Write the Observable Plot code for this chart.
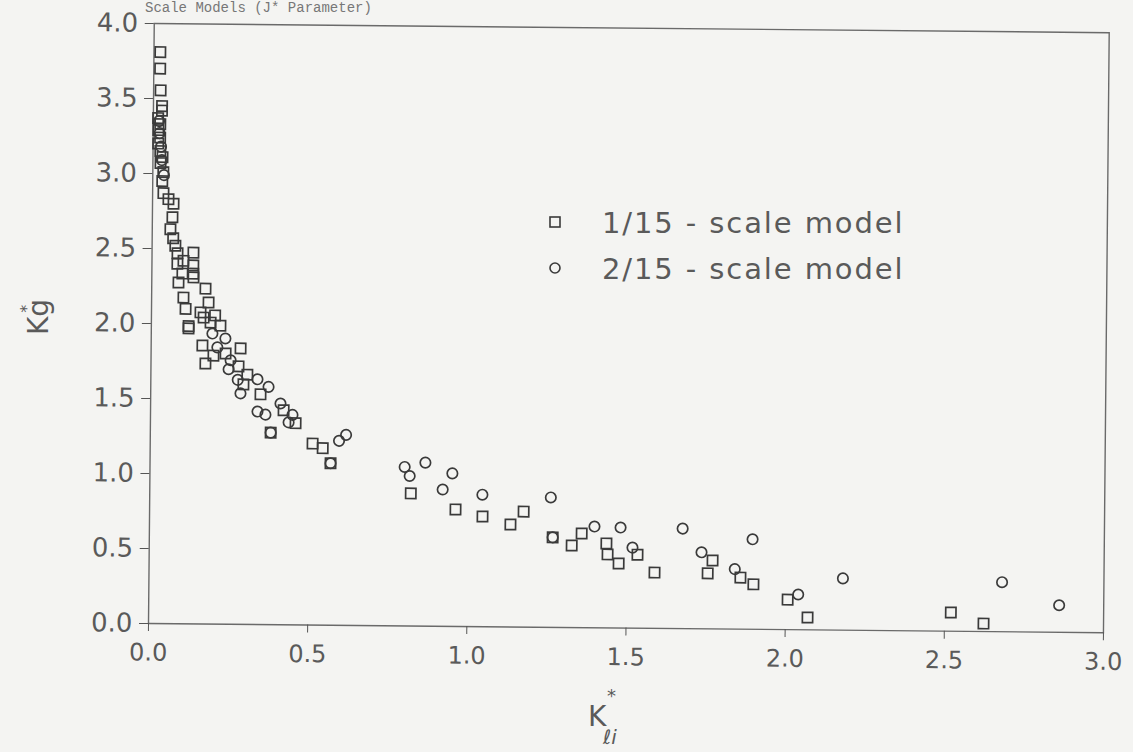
<!DOCTYPE html>
<html>
<head>
<meta charset="utf-8">
<script src="https://cdn.jsdelivr.net/npm/d3@7"></script>
<script src="https://cdn.jsdelivr.net/npm/@observablehq/plot@0.6"></script>
<style>
  html, body { margin: 0; padding: 0; background: #f4f4f2; }
  #wrap { position: relative; width: 1133px; height: 752px; overflow: hidden; }
  #chart svg { position: absolute; left: 0; top: 0; transform: rotate(0.55deg); transform-origin: 148px 623px; }
  #overlay { position: absolute; left: 0; top: 0; pointer-events: none; }
</style>
</head>
<body>
<div id="wrap">
  <div id="chart"></div>
  <svg id="overlay" width="1133" height="752"></svg>
</div>
<script>
// ---- Data (K*_li, K*_g) ----
const xTicks = [0, 0.5, 1.0, 1.5, 2.0, 2.5, 3.0];
const yTicks = [0, 0.5, 1.0, 1.5, 2.0, 2.5, 3.0, 3.5, 4.0];
const seriesNames = ["1/15 - scale model", "2/15 - scale model"];

// 1/15-scale model (squares)
const model15 = [
  [0.020,3.81],[0.020,3.70],[0.022,3.555],[0.027,3.45],[0.027,3.42],[0.015,3.37],[0.022,3.33],
  [0.016,3.29],[0.022,3.24],[0.016,3.20],[0.023,3.15],[0.030,3.11],[0.024,3.07],[0.033,3.01],
  [0.030,2.95],[0.034,2.87],[0.050,2.83],[0.066,2.80],[0.063,2.71],[0.057,2.63],[0.066,2.57],
  [0.073,2.52],[0.080,2.47],[0.130,2.475],[0.099,2.42],[0.080,2.40],[0.130,2.39],[0.096,2.335],
  [0.130,2.335],[0.084,2.275],[0.131,2.31],[0.169,2.236],[0.100,2.175],[0.107,2.10],[0.179,2.144],
  [0.154,2.077],[0.117,1.97],[0.117,1.985],[0.164,2.043],[0.186,2.01],[0.200,2.058],[0.217,1.99],
  [0.161,1.857],[0.196,1.79],[0.171,1.737],[0.234,1.805],[0.281,1.84],[0.275,1.72],[0.303,1.665],
  [0.291,1.60],[0.345,1.535],[0.418,1.43],[0.456,1.345],[0.378,1.28],[0.51,1.21],[0.542,1.18],
  [0.567,1.08],
  [0.82,0.884],[0.961,0.78],[1.046,0.735],[1.134,0.683],[1.175,0.77],[1.267,0.60],[1.327,0.547],
  [1.358,0.628],[1.436,0.563],[1.44,0.49],[1.475,0.43],[1.534,0.49],[1.588,0.372],[1.77,0.456],
  [1.755,0.37],[1.858,0.344],[1.899,0.30],[2.007,0.20],[2.07,0.082],[2.52,0.125],[2.623,0.053]
];

// 2/15-scale model (circles)
const model215 = [
  [0.018,3.35],[0.020,3.27],[0.025,3.18],[0.028,3.09],[0.035,2.99],
  [0.192,1.937],[0.233,1.905],[0.208,1.845],[0.25,1.76],[0.244,1.70],[0.273,1.63],[0.282,1.54],
  [0.335,1.635],[0.37,1.585],[0.336,1.42],[0.361,1.40],[0.408,1.475],[0.446,1.40],[0.434,1.35],
  [0.378,1.28],[0.593,1.23],[0.615,1.27],[0.567,1.08],
  [0.80,1.06],[0.816,1.0],[0.865,1.09],[0.92,0.912],[0.95,1.02],[1.045,0.88],[1.26,0.866],
  [1.267,0.60],[1.398,0.675],[1.48,0.67],[1.518,0.537],[1.675,0.667],[1.735,0.51],[1.84,0.40],
  [1.895,0.60],[2.04,0.235],[2.18,0.345],[2.68,0.33],[2.86,0.18]
];

const ink = "#3a3a3a";
const txt = "#5a5a5a";
const chart = Plot.plot({
  width: 1133,
  height: 752,
  marginLeft: 148,
  marginRight: 30,
  marginTop: 23,
  marginBottom: 129,
  style: { background: "transparent", color: txt, fontFamily: "'DejaVu Sans', sans-serif" },
  x: { domain: [0, 3], axis: null },
  y: { domain: [0, 4], axis: null },
  marks: [
    Plot.frame({ stroke: "#6a6a6a", strokeWidth: 1.4 }),
    Plot.axisX({ ticks: xTicks, tickFormat: d3.format(".1f"), tickSize: 8, tickPadding: 12,
                 fontSize: 24, label: null, stroke: "#555" }),
    Plot.axisY({ ticks: yTicks, tickFormat: d3.format(".1f"), tickSize: 9, tickPadding: 7,
                 fontSize: 26, label: null, stroke: "#555" }),
    Plot.dot(model15, { x: d => d[0], y: d => d[1], symbol: "square", r: 5.8,
                        stroke: ink, strokeWidth: 1.7, fill: "none" }),
    Plot.dot(model215, { x: d => d[0], y: d => d[1], symbol: "circle", r: 5.2,
                         stroke: ink, strokeWidth: 1.7, fill: "none" })
  ]
});
document.getElementById("chart").appendChild(chart);

// ---- Title, legend and axis labels ----
const ov = d3.select("#overlay");
ov.append("text").attr("x", 145).attr("y", 12)
  .attr("font-family", "'Liberation Mono', monospace").attr("font-size", 14).attr("fill", "#777")
  .text("Scale Models (J* Parameter)");

const lg = ov.append("g").attr("font-family", "'DejaVu Sans', sans-serif")
  .attr("font-size", 29).attr("fill", txt).attr("letter-spacing", 1.9);
lg.append("rect").attr("x", 550).attr("y", 217).attr("width", 10).attr("height", 10)
  .attr("fill", "none").attr("stroke", ink).attr("stroke-width", 1.6);
lg.append("text").attr("x", 602).attr("y", 233).text(seriesNames[0]);
lg.append("circle").attr("cx", 555).attr("cy", 268).attr("r", 5)
  .attr("fill", "none").attr("stroke", ink).attr("stroke-width", 1.6);
lg.append("text").attr("x", 602).attr("y", 279).text(seriesNames[1]);

// y label: K*_g (rotated)
const yl = ov.append("text").attr("transform", "translate(48,335) rotate(-90)")
  .attr("font-family", "'DejaVu Sans', sans-serif")
  .attr("font-size", 28).attr("fill", txt);
yl.append("tspan").text("K");
yl.append("tspan").text("g");
yl.append("tspan").attr("dx", -14).attr("dy", -16).attr("font-size", 16).text("*");

// x label: K*_li
const xl = ov.append("g").attr("font-family", "'DejaVu Sans', sans-serif").attr("fill", txt);
xl.append("text").attr("x", 588).attr("y", 726).attr("font-size", 28).text("K");
xl.append("text").attr("x", 607).attr("y", 702).attr("font-size", 18).text("*");
xl.append("text").attr("x", 603).attr("y", 744).attr("font-size", 20).attr("font-style", "italic").text("ℓi");
</script>
</body>
</html>
